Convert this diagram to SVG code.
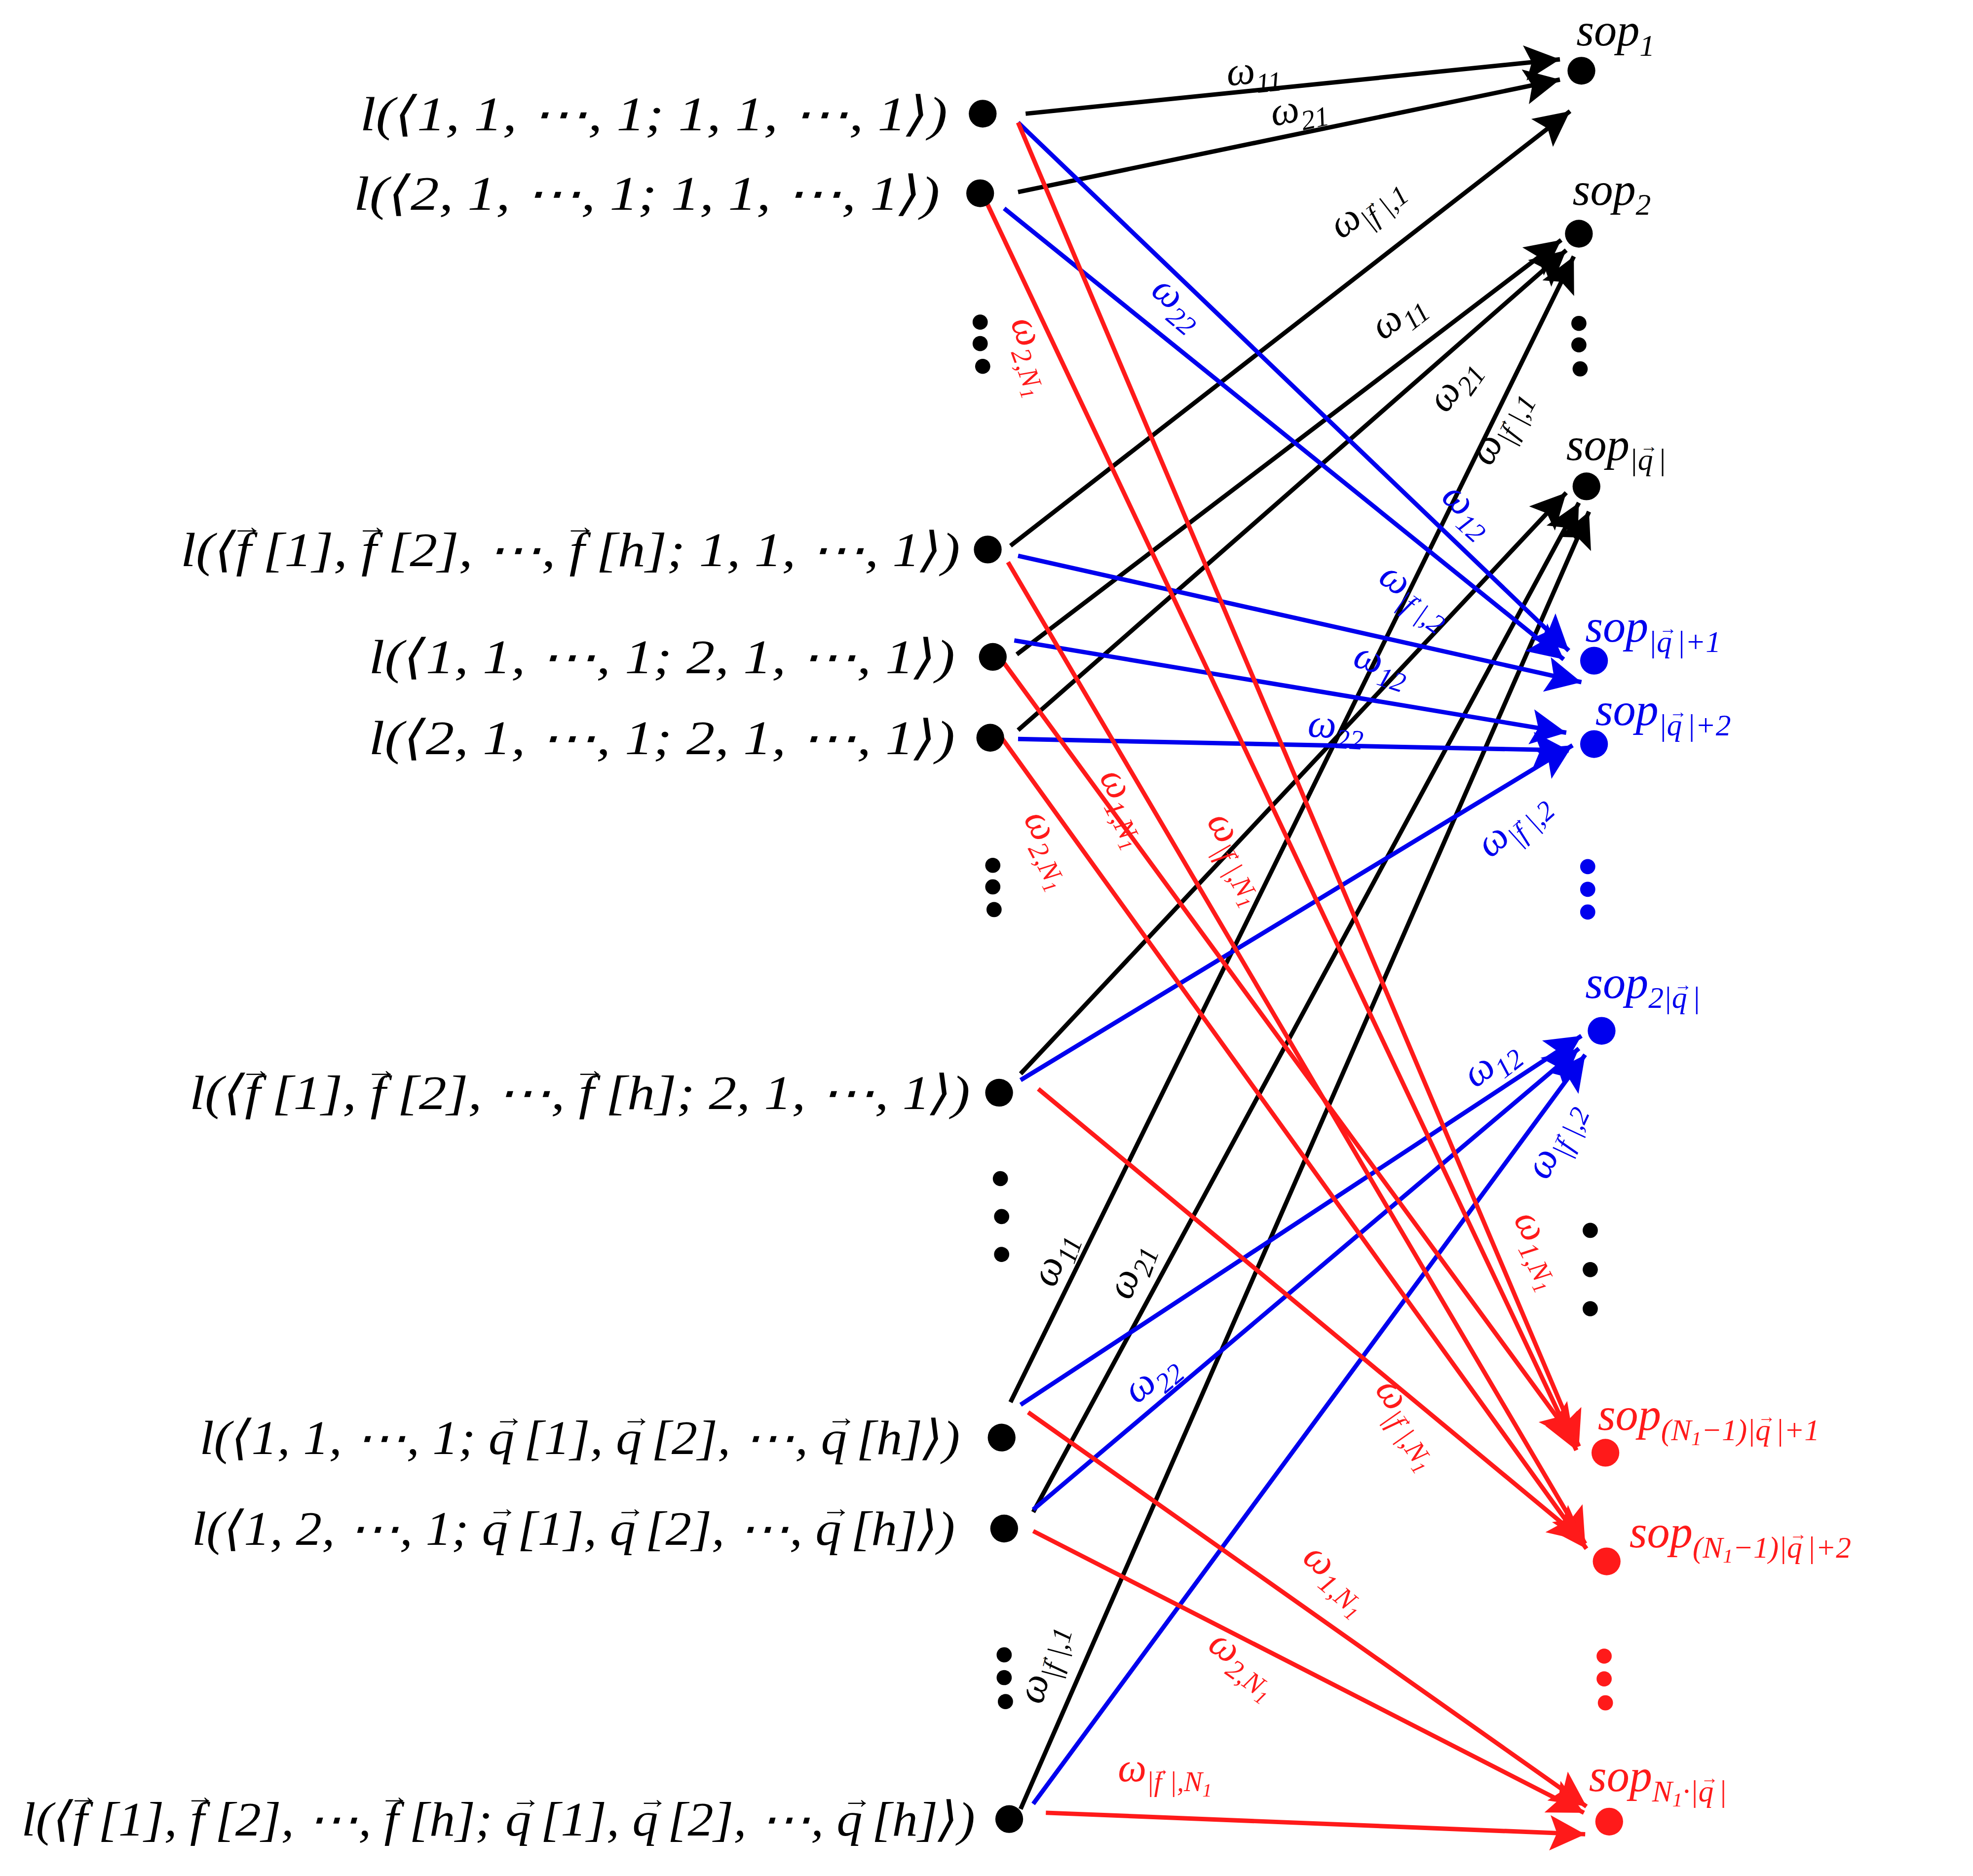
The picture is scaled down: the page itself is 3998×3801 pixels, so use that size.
<svg xmlns="http://www.w3.org/2000/svg" width="3998" height="3801" viewBox="0 0 3998 3801">
<defs>
<style>
.t{font-family:"Liberation Serif","DejaVu Serif",serif;font-size:36px;font-style:italic}
.lb{font-family:"Liberation Serif","DejaVu Serif",serif;font-size:38px;font-style:italic;text-anchor:end}
.w{font-family:"Liberation Serif","DejaVu Serif",serif;font-size:32px;font-style:italic}
.v{font-style:normal}
.k{fill:#000}.b{fill:#0000ee}.r{fill:#ff1a1a}
.ek{stroke:#000;stroke-width:3.5;fill:none}
.eb{stroke:#0000ee;stroke-width:3.5;fill:none}
.er{stroke:#ff1a1a;stroke-width:3.5;fill:none}
</style>
<marker id="ak" viewBox="0 0 10 10" refX="10" refY="5" markerWidth="9" markerHeight="8" orient="auto"><path d="M0,0L10,5L0,10L2,5z" fill="#000"/></marker>
<marker id="ab" viewBox="0 0 10 10" refX="10" refY="5" markerWidth="9" markerHeight="8" orient="auto"><path d="M0,0L10,5L0,10L2,5z" fill="#0000ee"/></marker>
<marker id="ar" viewBox="0 0 10 10" refX="10" refY="5" markerWidth="9" markerHeight="8" orient="auto"><path d="M0,0L10,5L0,10L2,5z" fill="#ff1a1a"/></marker>
</defs>
<rect width="3998" height="3801" fill="#fff"/>
<g transform="scale(2.5595)">
<g id="connectors">
<g marker-end="url(#ak)" class="ek">
<line x1="812" y1="90" x2="1235" y2="47"/>
<line x1="806" y1="152" x2="1235" y2="63"/>
<line x1="800" y1="432" x2="1243" y2="88"/>
<line x1="805" y1="518" x2="1236" y2="190"/>
<line x1="806" y1="578" x2="1240" y2="198"/>
<line x1="800" y1="1110" x2="1246" y2="203"/>
<line x1="808" y1="850" x2="1240" y2="390"/>
<line x1="818" y1="1197" x2="1250" y2="398"/>
<line x1="808" y1="1432" x2="1258" y2="405"/>
</g>
<g marker-end="url(#ab)" class="eb">
<line x1="806" y1="97" x2="1242" y2="515"/>
<line x1="795" y1="165" x2="1238" y2="522"/>
<line x1="806" y1="440" x2="1252" y2="540"/>
<line x1="803" y1="507" x2="1240" y2="580"/>
<line x1="806" y1="585" x2="1242" y2="594"/>
<line x1="808" y1="855" x2="1245" y2="590"/>
<line x1="808" y1="1112" x2="1252" y2="820"/>
<line x1="818" y1="1195" x2="1250" y2="830"/>
<line x1="818" y1="1428" x2="1255" y2="835"/>
</g>
<g marker-end="url(#ar)" class="er">
<line x1="806" y1="97" x2="1250" y2="1145"/>
<line x1="781" y1="160" x2="1248" y2="1148"/>
<line x1="795" y1="525" x2="1246" y2="1140"/>
<line x1="798" y1="445" x2="1255" y2="1222"/>
<line x1="793" y1="584" x2="1256" y2="1226"/>
<line x1="822" y1="862" x2="1254" y2="1220"/>
<line x1="814" y1="1118" x2="1256" y2="1430"/>
<line x1="818" y1="1212" x2="1254" y2="1435"/>
<line x1="828" y1="1435" x2="1255" y2="1452"/>
</g>
</g>
<g id="weights">
<text class="w k" transform="translate(972,68) rotate(-6)">ω<tspan dy="8" font-size="22">11</tspan></text>
<text class="w k" transform="translate(1008,100) rotate(-12)">ω<tspan dy="8" font-size="22">21</tspan></text>
<text class="w k" transform="translate(1062,190) rotate(-38)">ω<tspan dy="8" font-size="22">|f<tspan class="v" dx="-7" dy="-13" font-size="13">→</tspan><tspan dy="13">|,1</tspan></tspan></text>
<text class="w b" transform="translate(910,232) rotate(40)">ω<tspan dy="8" font-size="22">22</tspan></text>
<text class="w r" transform="translate(800,255) rotate(70)">ω<tspan dy="8" font-size="22">2,N<tspan dy="4" font-size="15">1</tspan></tspan></text>
<text class="w k" transform="translate(1095,270) rotate(-38)">ω<tspan dy="8" font-size="22">11</tspan></text>
<text class="w k" transform="translate(1145,328) rotate(-55)">ω<tspan dy="8" font-size="22">21</tspan></text>
<text class="w k" transform="translate(1180,370) rotate(-62)">ω<tspan dy="8" font-size="22">|f<tspan class="v" dx="-7" dy="-13" font-size="13">→</tspan><tspan dy="13">|,1</tspan></tspan></text>
<text class="w b" transform="translate(1140,395) rotate(42)">ω<tspan dy="8" font-size="22">12</tspan></text>
<text class="w b" transform="translate(1090,460) rotate(35)">ω<tspan dy="8" font-size="22">|f<tspan class="v" dx="-7" dy="-13" font-size="13">→</tspan><tspan dy="13">|,2</tspan></tspan></text>
<text class="w b" transform="translate(1070,527) rotate(18)">ω<tspan dy="8" font-size="22">12</tspan></text>
<text class="w b" transform="translate(1035,583) rotate(3)">ω<tspan dy="8" font-size="22">22</tspan></text>
<text class="w r" transform="translate(870,615) rotate(62)">ω<tspan dy="8" font-size="22">1,N<tspan dy="4" font-size="15">1</tspan></tspan></text>
<text class="w r" transform="translate(810,648) rotate(62)">ω<tspan dy="8" font-size="22">2,N<tspan dy="4" font-size="15">1</tspan></tspan></text>
<text class="w r" transform="translate(955,650) rotate(60)">ω<tspan dy="8" font-size="22">|f<tspan class="v" dx="-7" dy="-13" font-size="13">→</tspan><tspan dy="13">|,N</tspan><tspan dy="4" font-size="15">1</tspan></tspan></text>
<text class="w b" transform="translate(1180,680) rotate(-42)">ω<tspan dy="8" font-size="22">|f<tspan class="v" dx="-7" dy="-13" font-size="13">→</tspan><tspan dy="13">|,2</tspan></tspan></text>
<text class="w b" transform="translate(1168,862) rotate(-38)">ω<tspan dy="8" font-size="22">12</tspan></text>
<text class="w b" transform="translate(1225,935) rotate(-65)">ω<tspan dy="8" font-size="22">|f<tspan class="v" dx="-7" dy="-13" font-size="13">→</tspan><tspan dy="13">|,2</tspan></tspan></text>
<text class="w r" transform="translate(1198,965) rotate(62)">ω<tspan dy="8" font-size="22">1,N<tspan dy="4" font-size="15">1</tspan></tspan></text>
<text class="w k" transform="translate(835,1020) rotate(-70)">ω<tspan dy="8" font-size="22">11</tspan></text>
<text class="w k" transform="translate(895,1030) rotate(-70)">ω<tspan dy="8" font-size="22">21</tspan></text>
<text class="w b" transform="translate(900,1112) rotate(-40)">ω<tspan dy="8" font-size="22">22</tspan></text>
<text class="w r" transform="translate(1088,1100) rotate(55)">ω<tspan dy="8" font-size="22">|f<tspan class="v" dx="-7" dy="-13" font-size="13">→</tspan><tspan dy="13">|,N</tspan><tspan dy="4" font-size="15">1</tspan></tspan></text>
<text class="w r" transform="translate(1030,1235) rotate(40)">ω<tspan dy="8" font-size="22">1,N<tspan dy="4" font-size="15">1</tspan></tspan></text>
<text class="w r" transform="translate(955,1305) rotate(35)">ω<tspan dy="8" font-size="22">2,N<tspan dy="4" font-size="15">1</tspan></tspan></text>
<text class="w k" transform="translate(825,1350) rotate(-75)">ω<tspan dy="8" font-size="22">|f<tspan class="v" dx="-7" dy="-13" font-size="13">→</tspan><tspan dy="13">|,1</tspan></tspan></text>
<text class="w r" transform="translate(885,1410)">ω<tspan dy="8" font-size="22">|f<tspan class="v" dx="-7" dy="-13" font-size="13">→</tspan><tspan dy="13">|,N</tspan><tspan dy="4" font-size="15">1</tspan></tspan></text>
</g>
<g id="left-nodes" class="k">
<g id="L1"><circle cx="778" cy="90" r="11"/><text class="lb" x="750" y="103" textLength="465" lengthAdjust="spacingAndGlyphs">l(⟨1, 1, ⋯, 1; 1, 1, ⋯, 1⟩)</text></g>
<g id="L2"><circle cx="776" cy="153" r="11"/><text class="lb" x="744" y="166" textLength="464" lengthAdjust="spacingAndGlyphs">l(⟨2, 1, ⋯, 1; 1, 1, ⋯, 1⟩)</text></g>
<g id="L3"><circle cx="782" cy="435" r="11"/><text class="lb" x="760" y="448" textLength="617" lengthAdjust="spacingAndGlyphs">l(⟨f<tspan class="v" dx="-14" dy="-24" font-size="22">→</tspan><tspan dy="24">[1], f</tspan><tspan class="v" dx="-14" dy="-24" font-size="22">→</tspan><tspan dy="24">[2], ⋯, f</tspan><tspan class="v" dx="-14" dy="-24" font-size="22">→</tspan><tspan dy="24">[h]; 1, 1, ⋯, 1⟩)</tspan></text></g>
<g id="L4"><circle cx="786" cy="520" r="11"/><text class="lb" x="756" y="533" textLength="464" lengthAdjust="spacingAndGlyphs">l(⟨1, 1, ⋯, 1; 2, 1, ⋯, 1⟩)</text></g>
<g id="L5"><circle cx="784" cy="584" r="11"/><text class="lb" x="756" y="597" textLength="464" lengthAdjust="spacingAndGlyphs">l(⟨2, 1, ⋯, 1; 2, 1, ⋯, 1⟩)</text></g>
<g id="L6"><circle cx="791" cy="865" r="11"/><text class="lb" x="768" y="878" textLength="618" lengthAdjust="spacingAndGlyphs">l(⟨f<tspan class="v" dx="-14" dy="-24" font-size="22">→</tspan><tspan dy="24">[1], f</tspan><tspan class="v" dx="-14" dy="-24" font-size="22">→</tspan><tspan dy="24">[2], ⋯, f</tspan><tspan class="v" dx="-14" dy="-24" font-size="22">→</tspan><tspan dy="24">[h]; 2, 1, ⋯, 1⟩)</tspan></text></g>
<g id="L7"><circle cx="793" cy="1138" r="11"/><text class="lb" x="760" y="1151" textLength="602" lengthAdjust="spacingAndGlyphs">l(⟨1, 1, ⋯, 1; q<tspan class="v" dx="-15" dy="-22" font-size="22">→</tspan><tspan dy="22">[1], q</tspan><tspan class="v" dx="-15" dy="-22" font-size="22">→</tspan><tspan dy="22">[2], ⋯, q</tspan><tspan class="v" dx="-15" dy="-22" font-size="22">→</tspan><tspan dy="22">[h]⟩)</tspan></text></g>
<g id="L8"><circle cx="795" cy="1210" r="11"/><text class="lb" x="756" y="1223" textLength="604" lengthAdjust="spacingAndGlyphs">l(⟨1, 2, ⋯, 1; q<tspan class="v" dx="-15" dy="-22" font-size="22">→</tspan><tspan dy="22">[1], q</tspan><tspan class="v" dx="-15" dy="-22" font-size="22">→</tspan><tspan dy="22">[2], ⋯, q</tspan><tspan class="v" dx="-15" dy="-22" font-size="22">→</tspan><tspan dy="22">[h]⟩)</tspan></text></g>
<g id="L9"><circle cx="799" cy="1440" r="11"/><text class="lb" x="772" y="1453" textLength="755" lengthAdjust="spacingAndGlyphs">l(⟨f<tspan class="v" dx="-14" dy="-24" font-size="22">→</tspan><tspan dy="24">[1], f</tspan><tspan class="v" dx="-14" dy="-24" font-size="22">→</tspan><tspan dy="24">[2], ⋯, f</tspan><tspan class="v" dx="-14" dy="-24" font-size="22">→</tspan><tspan dy="24">[h]; q</tspan><tspan class="v" dx="-15" dy="-22" font-size="22">→</tspan><tspan dy="22">[1], q</tspan><tspan class="v" dx="-15" dy="-22" font-size="22">→</tspan><tspan dy="22">[2], ⋯, q</tspan><tspan class="v" dx="-15" dy="-22" font-size="22">→</tspan><tspan dy="22">[h]⟩)</tspan></text></g>
<g id="dotsL">
<circle cx="776" cy="255" r="6"/><circle cx="776" cy="272" r="6"/><circle cx="778" cy="290" r="6"/>
<circle cx="786" cy="685" r="6"/><circle cx="786" cy="702" r="6"/><circle cx="787" cy="720" r="6"/>
<circle cx="792" cy="933" r="6"/><circle cx="793" cy="963" r="6"/><circle cx="793" cy="993" r="6"/>
<circle cx="795" cy="1310" r="6"/><circle cx="795" cy="1328" r="6"/><circle cx="796" cy="1347" r="6"/>
</g>
</g>
<g id="right-nodes">
<g id="R1" class="k"><circle cx="1252" cy="56" r="11"/><text class="t" x="1248" y="36">sop<tspan dy="8" font-size="24">1</tspan></text></g>
<g id="R2" class="k"><circle cx="1250" cy="185" r="11"/><text class="t" x="1245" y="162">sop<tspan dy="8" font-size="24">2</tspan></text></g>
<g id="R3" class="k"><circle cx="1256" cy="385" r="11"/><text class="t" x="1240" y="364">sop<tspan dy="8" font-size="24">|q</tspan><tspan class="v" dx="-10" dy="-14" font-size="14">→</tspan><tspan dy="14" font-size="24">|</tspan></text></g>
<g id="R4" class="b"><circle cx="1262" cy="523" r="11"/><text class="t" x="1255" y="508">sop<tspan dy="8" font-size="24">|q</tspan><tspan class="v" dx="-10" dy="-14" font-size="14">→</tspan><tspan dy="14" font-size="24">|+1</tspan></text></g>
<g id="R5" class="b"><circle cx="1262" cy="589" r="11"/><text class="t" x="1263" y="574">sop<tspan dy="8" font-size="24">|q</tspan><tspan class="v" dx="-10" dy="-14" font-size="14">→</tspan><tspan dy="14" font-size="24">|+2</tspan></text></g>
<g id="R6" class="b"><circle cx="1268" cy="816" r="11"/><text class="t" x="1255" y="790">sop<tspan dy="8" font-size="24">2|q</tspan><tspan class="v" dx="-10" dy="-14" font-size="14">→</tspan><tspan dy="14" font-size="24">|</tspan></text></g>
<g id="R7" class="r"><circle cx="1271" cy="1150" r="11"/><text class="t" x="1265" y="1132">sop<tspan dy="8" font-size="24">(N</tspan><tspan dy="4" font-size="16">1</tspan><tspan dy="-4" font-size="24">−1)|q</tspan><tspan class="v" dx="-10" dy="-14" font-size="14">→</tspan><tspan dy="14" font-size="24">|+1</tspan></text></g>
<g id="R8" class="r"><circle cx="1272" cy="1236" r="11"/><text class="t" x="1290" y="1225">sop<tspan dy="8" font-size="24">(N</tspan><tspan dy="4" font-size="16">1</tspan><tspan dy="-4" font-size="24">−1)|q</tspan><tspan class="v" dx="-10" dy="-14" font-size="14">→</tspan><tspan dy="14" font-size="24">|+2</tspan></text></g>
<g id="R9" class="r"><circle cx="1274" cy="1442" r="11"/><text class="t" x="1258" y="1418">sop<tspan dy="8" font-size="24">N</tspan><tspan dy="4" font-size="16">1</tspan><tspan dy="-4" font-size="24">·|q</tspan><tspan class="v" dx="-10" dy="-14" font-size="14">→</tspan><tspan dy="14" font-size="24">|</tspan></text></g>
<g id="dotsR">
<circle class="k" cx="1250" cy="256" r="6"/><circle class="k" cx="1250" cy="273" r="6"/><circle class="k" cx="1251" cy="292" r="6"/>
<circle class="b" cx="1257" cy="686" r="6"/><circle class="b" cx="1257" cy="704" r="6"/><circle class="b" cx="1257" cy="722" r="6"/>
<circle class="k" cx="1259" cy="974" r="6"/><circle class="k" cx="1259" cy="1005" r="6"/><circle class="k" cx="1259" cy="1036" r="6"/>
<circle class="r" cx="1270" cy="1311" r="6"/><circle class="r" cx="1270" cy="1329" r="6"/><circle class="r" cx="1271" cy="1348" r="6"/>
</g>
</g>
</g>
</svg>
